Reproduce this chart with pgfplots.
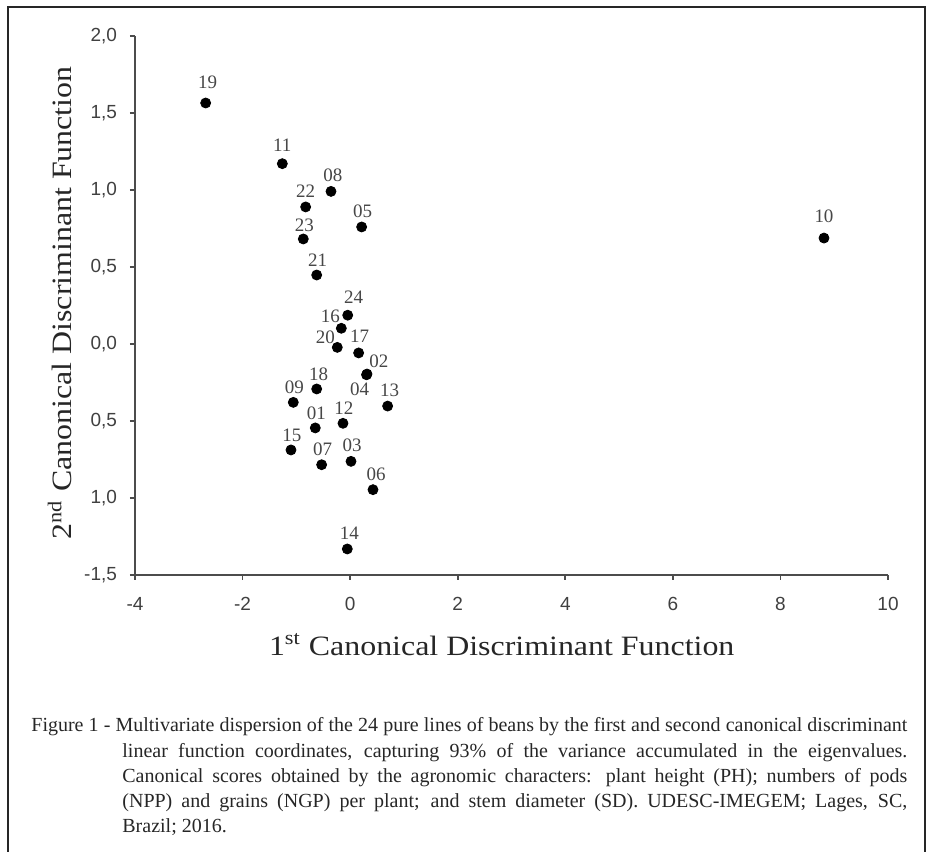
\documentclass[border=0pt]{standalone}
\usepackage{pgfplots}
\usepackage{pgfplotstable}
\pgfplotsset{compat=1.18}
\usepackage{fontspec}
\setmainfont{Liberation Serif}
\newfontfamily\arialfont{Liberation Sans}
\newfontfamily\titlefont[FakeStretch=1.14]{Liberation Serif}

\pgfplotstableread{
x y lab dx dy
-2.686 1.565 19 1 10.5
-1.261 1.171 11 0 9
-0.356 0.991 08 1 8
-0.827 0.890 22 0 8
0.214 0.760 05 0.5 8
-0.871 0.682 23 0.5 7
8.81 0.688 10 0 10.8
-0.622 0.448 21 0.5 7.5
-0.045 0.187 24 3 8.8
-0.164 0.102 16 -5.5 6
-0.239 -0.022 20 -6 5
0.158 -0.058 17 0.5 8.5
0.305 -0.200 04 -3.5 -7
0.313 -0.195 02 6 6.5
-0.622 -0.292 18 1 7.5
-1.057 -0.379 09 0.5 7.5
0.697 -0.403 13 1 8
-0.133 -0.515 12 0.5 7.5
-0.648 -0.545 01 0.5 7.5
-1.100 -0.688 15 0.5 7.5
-0.530 -0.784 07 0.5 7.5
0.016 -0.762 03 0.5 8
0.425 -0.946 06 1.5 7.5
-0.053 -1.331 14 1 8
}\pts

\begin{document}
\begin{tikzpicture}
\useasboundingbox (0,0) rectangle (466.5pt,426pt);
\draw[black!85, line width=1pt] (4pt,-5pt) -- (4pt,422.5pt) -- (462.5pt,422.5pt) -- (462.5pt,-5pt);
\begin{axis}[
  scale only axis, width=376.5pt, height=269.5pt,
  at={(67.5pt,138.5pt)}, anchor=south west,
  xmin=-4, xmax=10, ymin=-1.5, ymax=2,
  axis lines=left,
  axis line style={-, draw=black!70, line width=0.8pt},
  xtick={-4,-2,0,2,4,6,8,10},
  xticklabels={-4,-2,0,2,4,6,8,10},
  ytick={-1.5,-1,-0.5,0,0.5,1,1.5,2},
  yticklabels={{-1,5},{1,0},{0,5},{0,0},{0,5},{1,0},{1,5},{2,0}},
  tick align=outside, major tick length=2.5pt,
  tick style={draw=black!70, line width=0.8pt},
  ticklabel style={font=\arialfont\fontsize{9.5}{11}\selectfont, text=black!75},
  xticklabel style={yshift=-5pt},
  yticklabel style={xshift=-3pt},
  xlabel={1\textsuperscript{st} Canonical Discriminant Function},
  ylabel={2\textsuperscript{nd} Canonical Discriminant Function},
  xlabel style={at={(axis description cs:0.487,-0.149)}, anchor=base, font=\titlefont\fontsize{14}{16}\selectfont, text=black!85},
  ylabel style={at={(axis description cs:-0.084,0.505)}, anchor=base, font=\titlefont\fontsize{14}{16}\selectfont, text=black!85},
  clip=false,
]
\addplot[only marks, mark=*, mark size=2.5pt, black,
  nodes near coords, point meta=explicit symbolic,
  visualization depends on={\thisrow{dx}\as\ldx},
  visualization depends on={\thisrow{dy}\as\ldy},
  every node near coord/.append style={anchor=center, inner sep=0pt, xshift=\ldx pt, yshift=\ldy pt, font=\fontsize{9.5}{10}\selectfont, text=black!72}
] table[x=x, y=y, meta=lab] {\pts};
\end{axis}
\node[anchor=base west, inner sep=0pt, text=black!85] at (15.5pt,60pt) {\parbox[t]{438pt}{\fontsize{10}{12.6}\selectfont\hangindent=45.5pt\hangafter=1 Figure 1 - Multivariate dispersion of the 24 pure lines of beans by the first and second canonical discriminant\linebreak linear function coordinates, capturing 93\% of the variance accumulated in the eigenvalues.\linebreak Canonical scores obtained by the agronomic characters: plant height (PH); numbers of pods\linebreak (NPP) and grains (NGP) per plant; and stem diameter (SD). UDESC-IMEGEM; Lages, SC,\linebreak Brazil; 2016.}};
\end{tikzpicture}
\end{document}
